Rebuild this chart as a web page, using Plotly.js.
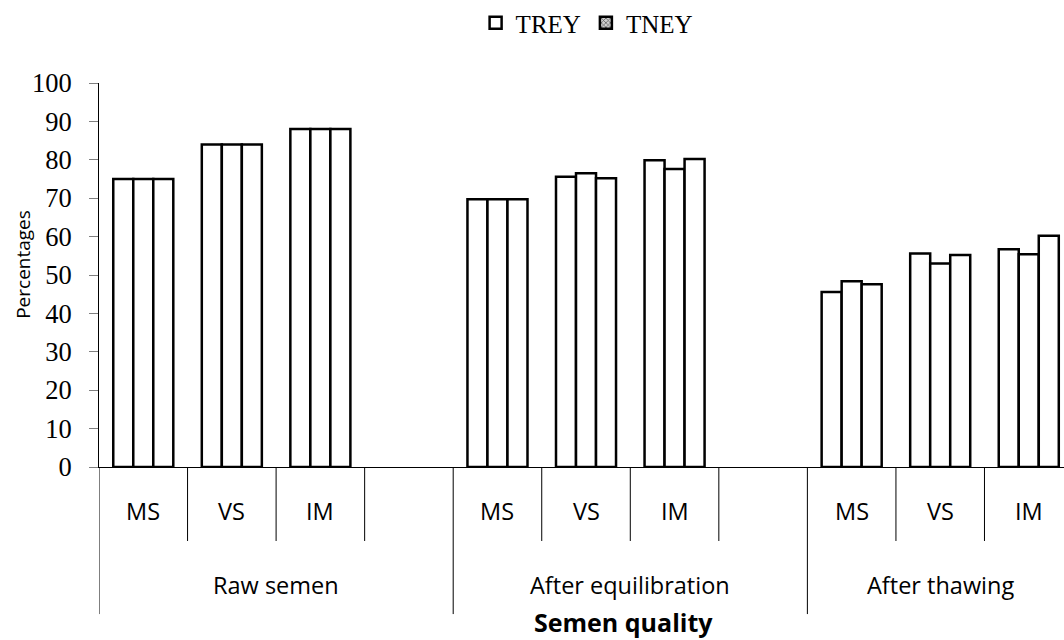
<!DOCTYPE html>
<html>
<head>
<meta charset="utf-8">
<script src="https://cdn.plot.ly/plotly-3.0.1.min.js"></script>
<style>html,body{margin:0;padding:0;background:#fff}#chart{width:1064px;height:640px}</style>
</head>
<body>
<div id="chart"></div>
<script>
// ---- data ----
const groups = ['Raw semen', 'After equilibration', 'After thawing'];
const groupSubs = [['MS', 'VS', 'IM', ''], ['MS', 'VS', 'IM', ''], ['MS', 'VS', 'IM']];
const seriesNames = ['Series 1', 'TREY', 'TNEY'];
const series1 = [75, 84, 88, 69.7, 75.6, 79.9, 45.6, 55.6, 56.7];
const trey    = [75, 84, 88, 69.7, 76.5, 77.6, 48.4, 53.0, 55.4];
const tney    = [75, 84, 88, 69.7, 75.2, 80.2, 47.6, 55.2, 60.2];
const yTicks = [0, 10, 20, 30, 40, 50, 60, 70, 80, 90, 100];
const xTitle = 'Semen quality';
const yTitle = 'Percentages';

// ---- build ----
const xs = [];
const labels = [];
const groupStart = [];
let slot = 0;
groups.forEach((g, gi) => {
  groupStart.push(slot);
  groupSubs[gi].forEach((s, si) => { if (s) { xs.push(slot + si); labels.push(g + ' - ' + s); } });
  slot += groupSubs[gi].length;
});

const barW = 0.226;
const allSeries = [series1, trey, tney];
const traces = allSeries.map((vals, k) => ({
  type: 'bar', x: xs, y: vals, name: seriesNames[k], text: labels, hoverinfo: 'y+name+text', textposition: 'none',
  width: barW, offset: (k - 1.5) * barW,
  marker: {color: '#ffffff', line: {color: '#000000', width: 2.5}},
  showlegend: k === 1
}));
// legend-only entry for TNEY (pattern swatch as in the reference legend)
traces.push({
  type: 'bar', x: [null], y: [null], name: seriesNames[2], hoverinfo: 'skip',
  marker: {color: '#bdbdbd', line: {color: '#000', width: 2.5}, pattern: {shape: 'x', fgcolor: '#555', bgcolor: '#d0d0d0', size: 4, solidity: 0.4}},
  showlegend: true
});

const labelFont = {family: 'Open Sans', size: 23.5, color: '#000'};
const shapes = [];
const annotations = [];
const shortY = -0.1927, longY = -0.383;
groups.forEach((g, gi) => {
  const base = groupStart[gi];
  const n = groupSubs[gi].length;
  shapes.push({type: 'line', xref: 'x', yref: 'paper', x0: base - 0.5, x1: base - 0.5, y0: 0, y1: longY, line: {color: '#000', width: 1}});
  groupSubs[gi].forEach((s, si) => {
    if (si > 0) shapes.push({type: 'line', xref: 'x', yref: 'paper', x0: base + si - 0.5, x1: base + si - 0.5, y0: 0, y1: shortY, line: {color: '#000', width: 1}});
    if (s) annotations.push({xref: 'x', yref: 'paper', x: base + si, y: -0.1146, text: s, showarrow: false, yanchor: 'middle', font: labelFont});
  });
  annotations.push({xref: 'x', yref: 'paper', x: base + (n - 1) / 2, y: -0.307, text: g, showarrow: false, yanchor: 'middle', font: labelFont});
});
annotations.push({xref: 'paper', yref: 'paper', x: 0.544, y: -0.404, text: '<b>' + xTitle + '</b>', showarrow: false, xanchor: 'center', yanchor: 'middle', font: {family: 'Open Sans', size: 25, color: '#000'}});
annotations.push({xref: 'paper', yref: 'paper', x: -0.0788, y: 0.529, text: yTitle, textangle: -90, showarrow: false, xanchor: 'center', yanchor: 'middle', font: {family: 'Open Sans', size: 19, color: '#000'}});

const layout = {
  width: 1064, height: 640,
  margin: {l: 99, r: 0, t: 83, b: 173, pad: 0},
  paper_bgcolor: '#fff', plot_bgcolor: '#fff',
  barmode: 'overlay',
  xaxis: {range: [-0.5, 10.398], showticklabels: false, ticks: '', showgrid: false, zeroline: false, showline: true, linecolor: '#000', linewidth: 1, fixedrange: true, automargin: false},
  yaxis: {range: [0, 100], tickvals: yTicks, ticktext: yTicks.map(String), ticks: 'outside', ticklen: 9, tickcolor: '#7f7f7f', tickwidth: 1,
          ticklabelstandoff: 12, automargin: false,
          showgrid: false, zeroline: false, showline: true, linecolor: '#000', linewidth: 1,
          tickfont: {family: 'Liberation Serif', size: 26.5, color: '#000'}, fixedrange: true},
  legend: {orientation: 'h', xref: 'container', yref: 'container', x: 0.447, y: 1, xanchor: 'left', yanchor: 'top',
           font: {family: 'Liberation Serif', size: 25, color: '#000'}, traceorder: 'normal', itemwidth: 30, bgcolor: 'rgba(0,0,0,0)'},
  shapes: shapes,
  annotations: annotations,
  showlegend: true
};

Plotly.newPlot('chart', traces, layout, {displayModeBar: false, staticPlot: true});
</script>
</body>
</html>
